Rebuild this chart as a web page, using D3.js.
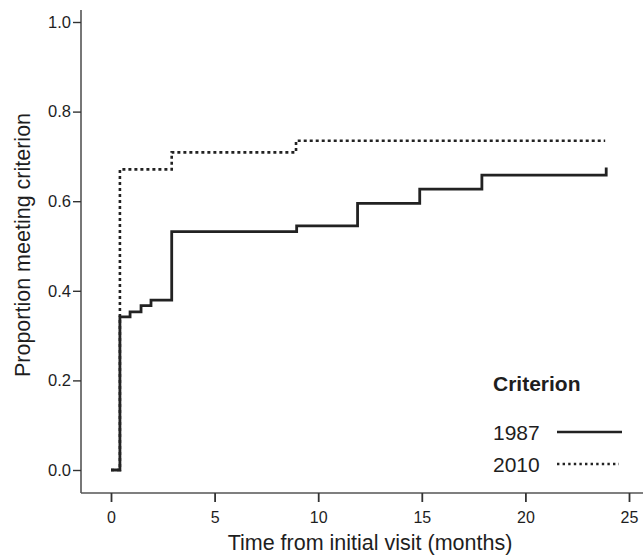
<!DOCTYPE html>
<html>
<head>
<meta charset="utf-8">
<script src="https://cdn.jsdelivr.net/npm/d3@7"></script>
<style>
  body { margin: 0; background: #fff; }
  text { font-family: "Liberation Sans", Arial, sans-serif; fill: #1e1e1e; }
</style>
</head>
<body>
<div id="chart"></div>
<script>
// chart size
var svgWidth = 643;
var svgHeight = 556;

// data
var times1987 = [0, 0.43, 0.92, 1.45, 1.93, 2.93, 8.96, 11.9, 14.9, 17.9, 23.9];
var props1987 = [0, 0.342, 0.353, 0.367, 0.379, 0.532, 0.545, 0.595, 0.627, 0.658, 0.675];
var times2010 = [0, 0.43, 2.93, 8.93, 23.85];
var props2010 = [0, 0.671, 0.709, 0.735, 0.735];

var xTicks = [0, 5, 10, 15, 20, 25];
var yTicks = [0, 0.2, 0.4, 0.6, 0.8, 1.0];
var seriesNames = ["1987", "2010"];

var svg = d3.select("#chart").append("svg")
    .attr("width", svgWidth)
    .attr("height", svgHeight);

// scales
var xScale = d3.scaleLinear().domain([0, 25]).range([111, 629]);
var yScale = d3.scaleLinear().domain([0, 1]).range([470, 22]);

var axisColor = "#555";

// axes lines (open frame like the original)
svg.append("line")
    .attr("x1", 81).attr("x2", 643)
    .attr("y1", 493).attr("y2", 493)
    .attr("stroke", axisColor).attr("stroke-width", 1.6);
svg.append("line")
    .attr("x1", 81).attr("x2", 81)
    .attr("y1", 10).attr("y2", 493)
    .attr("stroke", axisColor).attr("stroke-width", 1.6);

// X axis ticks
var xAxis = svg.append("g")
    .attr("transform", "translate(0,493)")
    .call(d3.axisBottom(xScale).tickValues(xTicks).tickSize(9).tickPadding(10).tickFormat(d3.format("d")));
xAxis.select(".domain").remove();
xAxis.selectAll("line").attr("stroke", "#333").attr("stroke-width", 1.8);
xAxis.selectAll("text").style("font-size", "16px").attr("fill", "#1e1e1e");

// Y axis ticks
var yAxis = svg.append("g")
    .attr("transform", "translate(81,0)")
    .call(d3.axisLeft(yScale).tickValues(yTicks).tickSize(8).tickPadding(2).tickFormat(d3.format(".1f")));
yAxis.select(".domain").remove();
yAxis.selectAll("line").attr("stroke", "#333").attr("stroke-width", 1.4);
yAxis.selectAll("text").style("font-size", "16.5px").attr("fill", "#1e1e1e");

// axis titles
svg.append("text")
    .attr("x", 370).attr("y", 550)
    .attr("text-anchor", "middle")
    .style("font-size", "21.5px")
    .text("Time from initial visit (months)");

svg.append("text")
    .attr("transform", "translate(30,245) rotate(-90)")
    .attr("text-anchor", "middle")
    .style("font-size", "21.5px")
    .text("Proportion meeting criterion");

// step curves
var line = d3.line()
    .x(d => xScale(d[0]))
    .y(d => yScale(d[1]))
    .curve(d3.curveStepAfter);

var data1987 = d3.zip(times1987, props1987);
var data2010 = d3.zip(times2010, props2010);

svg.append("path")
    .datum(data2010)
    .attr("d", line)
    .attr("fill", "none")
    .attr("stroke", "#222")
    .attr("stroke-width", 2.6)
    .attr("stroke-dasharray", "3,3");

svg.append("path")
    .datum(data1987)
    .attr("d", line)
    .attr("fill", "none")
    .attr("stroke", "#222")
    .attr("stroke-width", 2.8);

// legend
svg.append("text")
    .attr("x", 493).attr("y", 391)
    .style("font-size", "21px")
    .style("font-weight", "bold")
    .text("Criterion");

var legendY = [432, 464];
seriesNames.forEach(function(name, i) {
    svg.append("text")
        .attr("x", 493).attr("y", legendY[i] + 8)
        .style("font-size", "21px")
        .text(name);
    svg.append("line")
        .attr("x1", 557).attr("x2", i === 0 ? 622 : 619)
        .attr("y1", legendY[i]).attr("y2", legendY[i])
        .attr("stroke", "#222")
        .attr("stroke-width", i === 0 ? 2.6 : 2.4)
        .attr("stroke-dasharray", i === 0 ? null : "2.4,3.2");
});
</script>
</body>
</html>
